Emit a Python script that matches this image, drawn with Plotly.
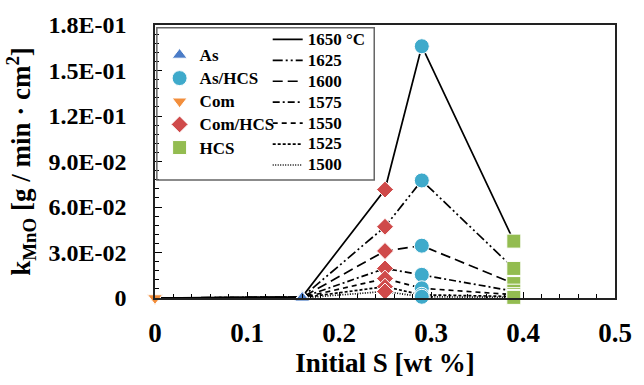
import plotly.graph_objects as go

# ---------------- data ----------------
categories = ["Com", "As", "Com/HCS", "As/HCS", "HCS"]
initial_S = [0.0, 0.16, 0.25, 0.29, 0.39]
temps = ["1650 °C", "1625", "1600", "1575", "1550", "1525", "1500"]

k_1650 = [0.0, 0.0008, 0.0715, 0.1660, 0.0375]
k_1625 = [0.0, 0.0006, 0.0470, 0.0775, 0.0195]
k_1600 = [0.0, 0.0005, 0.0310, 0.0345, 0.0095]
k_1575 = [0.0, 0.0004, 0.0195, 0.0153, 0.0045]
k_1550 = [0.0, 0.0003, 0.0128, 0.0064, 0.0022]
k_1525 = [0.0, 0.0002, 0.0075, 0.0021, 0.0010]
k_1500 = [0.0, 0.0001, 0.0043, 0.0008, 0.0004]
k_series = [k_1650, k_1625, k_1600, k_1575, k_1550, k_1525, k_1500]

y_tickvals = [0, 0.03, 0.06, 0.09, 0.12, 0.15, 0.18]
y_ticktext = ["0", "3.0E-02", "6.0E-02", "9.0E-02", "1.2E-01", "1.5E-01", "1.8E-01"]
x_tickvals = [0, 0.1, 0.2, 0.3, 0.4, 0.5]
x_ticktext = ["0", "0.1", "0.2", "0.3", "0.4", "0.5"]

# ---------------- styles ----------------
dashes = ["solid", "10px,3px,2px,3px,2px,3px", "10px,5px", "7px,3px,2px,3px",
          "5px,4px", "3px,2px", "1px,1.5px"]
marker_order = ["As", "As/HCS", "Com", "Com/HCS", "HCS"]
marker_style = {
    "As": dict(symbol="triangle-up", color="#4A7CC7", size=13),
    "As/HCS": dict(symbol="circle", color="#3FAACB", size=15),
    "Com": dict(symbol="triangle-down", color="#F28E3C", size=13),
    "Com/HCS": dict(symbol="diamond", color="#CF4A4A", size=13),
    "HCS": dict(symbol="square", color="#93BC50", size=14),
}
FONT = "Liberation Serif"


def big(txt):
    return f'<span style="font-size:17px">{txt}</span>'


fig = go.Figure()

for name, ks, dash in zip(temps, k_series, dashes):
    fig.add_trace(go.Scatter(
        x=initial_S, y=ks, mode="lines", name=big(name), legend="legend2",
        line=dict(color="black", width=1.7, dash=dash), cliponaxis=False))

for cat in marker_order:
    i = categories.index(cat)
    st = marker_style[cat]
    fig.add_trace(go.Scatter(
        x=[initial_S[i]] * len(k_series), y=[ks[i] for ks in k_series],
        mode="markers", name=big(cat), legend="legend",
        marker=dict(symbol=st["symbol"], color=st["color"], size=st["size"],
                    line=dict(color="white", width=1)),
        cliponaxis=False))

fig.update_layout(
    width=644, height=385,
    margin=dict(l=155, r=19, t=20, b=85),
    paper_bgcolor="white", plot_bgcolor="white",
    font=dict(family=FONT, color="black", size=17, weight="bold"),
    legend=dict(x=0.01, y=0.951, xanchor="left", yanchor="top",
                bgcolor="rgba(0,0,0,0)", font=dict(size=15.5, family=FONT, weight="bold"),
                itemwidth=30, tracegroupgap=0),
    legend2=dict(x=0.245, y=1.004, xanchor="left", yanchor="top",
                 bgcolor="rgba(0,0,0,0)", font=dict(size=13.8, family=FONT, weight="bold"),
                 itemwidth=30, tracegroupgap=0),
    shapes=[dict(type="rect", xref="paper", yref="paper", x0=0.004, x1=0.4766,
                 y0=0.432, y1=0.99, line=dict(color="#666", width=1.5))],
)

fig.update_xaxes(
    range=[0, 0.5], tickmode="array", tickvals=x_tickvals, ticktext=x_ticktext,
    ticks="inside", ticklen=6, tickwidth=1.3, tickcolor="black",
    showline=True, linecolor="#222", linewidth=1.6, mirror=True,
    showgrid=False, zeroline=False,
    minor=dict(tickmode="linear", tick0=0, dtick=0.02, ticks="inside", ticklen=4,
               tickwidth=1, tickcolor="black", showgrid=False),
    tickfont=dict(size=27, family=FONT, weight="bold"), ticklabelstandoff=10,
    title=dict(text="Initial S [wt %]", font=dict(size=27, family=FONT, weight="bold"),
               standoff=6),
)
fig.update_yaxes(
    range=[0, 0.18], tickmode="array", tickvals=y_tickvals, ticktext=y_ticktext,
    ticks="inside", ticklen=7, tickwidth=1.3, tickcolor="black",
    showline=True, linecolor="#222", linewidth=1.6, mirror=True,
    showgrid=False, zeroline=False,
    minor=dict(tickmode="linear", tick0=0, dtick=0.006, ticks="inside", ticklen=4,
               tickwidth=1, tickcolor="black", showgrid=False),
    tickfont=dict(size=24, family=FONT, weight="bold"), ticklabelstandoff=22,
    title=dict(text="k<sub>MnO</sub> [g / min · cm<sup>2</sup>]",
               font=dict(size=27, family=FONT, weight="bold"), standoff=10),
)

fig.write_html("out.html")
